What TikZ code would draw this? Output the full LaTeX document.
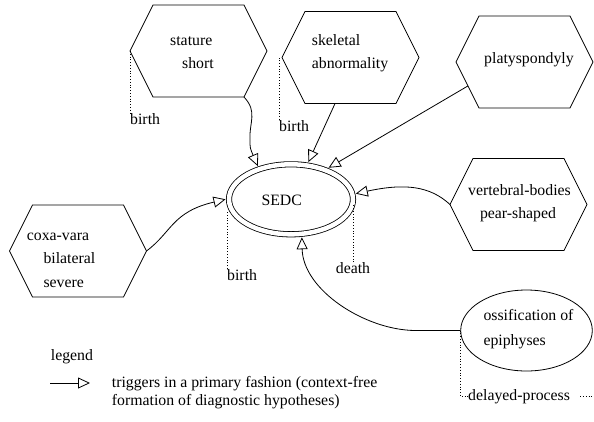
\documentclass[tikz,border=0pt]{standalone}
\usepackage{fontspec}
\setmainfont{Liberation Serif}
\usetikzlibrary{arrows.meta,shapes.geometric,calc}

% flat-topped hexagon: name, left x, top y (137 wide, 92 high)
\newcommand\hexbox[3]{%
  \coordinate (#1-w)  at (#2,#3+46);
  \coordinate (#1-nw) at (#2+23,#3);
  \coordinate (#1-ne) at (#2+114,#3);
  \coordinate (#1-e)  at (#2+137,#3+46);
  \coordinate (#1-se) at (#2+114,#3+92);
  \coordinate (#1-sw) at (#2+23,#3+92);
  \draw[hexline] (#1-w) -- (#1-nw) -- (#1-ne) -- (#1-e) -- (#1-se) -- (#1-sw) -- cycle;
}

\tikzset{
  hexline/.style={line width=0.8pt, line join=miter},
  lbl/.style={inner sep=0pt, font=\fontsize{15.8}{19}\selectfont},
  trig/.style={line width=0.8pt,
    -{Triangle[open, length=12pt, width=11pt, line width=0.8pt]}},
  timeline/.style={dotted, line width=0.8pt},
}

\begin{document}
\begin{tikzpicture}[x=1pt, y=-1pt]
\useasboundingbox (0,0) rectangle (594,421);

% findings
\hexbox{stat}{130}{5}
\node[lbl, anchor=base west] (stat-t1) at (170,45) {stature};
\node[lbl, anchor=base west] (stat-t2) at (182,68.3) {short};

\hexbox{skel}{282}{11.5}
\node[lbl, anchor=base west] (skel-t1) at (311.7,45) {skeletal};
\node[lbl, anchor=base west] (skel-t2) at (311.7,68.3) {abnormality};

\hexbox{platy}{456}{16}
\node[lbl, anchor=base] (platy-t) at (529,63.3) {platyspondyly};

\hexbox{vert}{450}{158.5}
\node[lbl, anchor=base] (vert-t1) at (519.5,195) {vertebral-bodies};
\node[lbl, anchor=base] (vert-t2) at (518,218.3) {pear-shaped};

\hexbox{coxa}{9.5}{205}
\node[lbl, anchor=base west] (coxa-t1) at (26.7,240.7) {coxa-vara};
\node[lbl, anchor=base west] (coxa-t2) at (43.3,263.3) {bilateral};
\node[lbl, anchor=base west] (coxa-t3) at (43.3,287.3) {severe};

% disorder
\node[draw, double, line width=0.8pt, double distance=4.5pt, ellipse,
      minimum width=124pt, minimum height=70pt, inner sep=0pt, outer sep=3.5pt]
      (sedc) at (291,199.3) {};
\node[lbl, anchor=base] (sedc-t) at (281.7,205.3) {SEDC};

\node[draw, ellipse, line width=0.8pt, minimum width=131.6pt, minimum height=81pt,
      inner sep=0pt] (oss) at (526.5,330.5) {};
\node[lbl, anchor=base west] (oss-t1) at (483.3,320.7) {ossification of};
\node[lbl, anchor=base west] (oss-t2) at (483.3,345) {epiphyses};

% time annotations
\node[lbl, anchor=base west] (stat-b) at (130,124) {birth};
\draw[timeline] (stat-w) -- (stat-b.north west);
\node[lbl, anchor=base west] (skel-b) at (279,131) {birth};
\draw[timeline] (skel-b.north west) -- (skel-b.north west |- skel-w);
\node[lbl, anchor=base west] (sedc-b) at (227,280) {birth};
\draw[timeline] (sedc-b.north west) -- (sedc-b.north west |- sedc.192);
\node[lbl, anchor=base] (sedc-d) at (353,273.3) {death};
\draw[timeline] (sedc-d.north) -- (sedc-d.north |- sedc.355);
\node[lbl, anchor=base west] (oss-d) at (468,400) {delayed-process};
\draw[timeline] (oss.west) |- (oss-d.west);
\draw[timeline] ([xshift=10pt]oss-d.east) -- ++(30,0);

% triggers
\draw[trig] (stat-se) .. controls (258,112) and (249,122) .. (250,140)
            .. controls (250,148) .. (sedc.135);
\draw[trig] ($(skel-sw)!0.33!(skel-se)$) -- (sedc.65);
\draw[trig] ($(platy-w)!0.52!(platy-sw)$) -- (sedc.40);
\draw[trig] (vert-w) .. controls (430,186) and (405,183) .. (sedc.5);
\draw[trig] (coxa-e) .. controls (172,232) and (172,212) .. (sedc.180);
\draw[trig] (oss.west) -- (415,330.5) .. controls (365,330) and (303,290) .. (sedc.286.5);

% legend
\node[lbl, anchor=base west] (leg) at (50.7,360) {legend};
\coordinate (leg-a) at (50,383);
\coordinate (leg-b) at (90,383);
\draw[trig] (leg-a) -- (leg-b);
\node[lbl, anchor=base west] (leg-t1) at (111.7,387.3) {triggers in a primary fashion (context-free};
\node[lbl, anchor=base west] (leg-t2) at (111.7,405.7) {formation of diagnostic hypotheses)};
\end{tikzpicture}
\end{document}
